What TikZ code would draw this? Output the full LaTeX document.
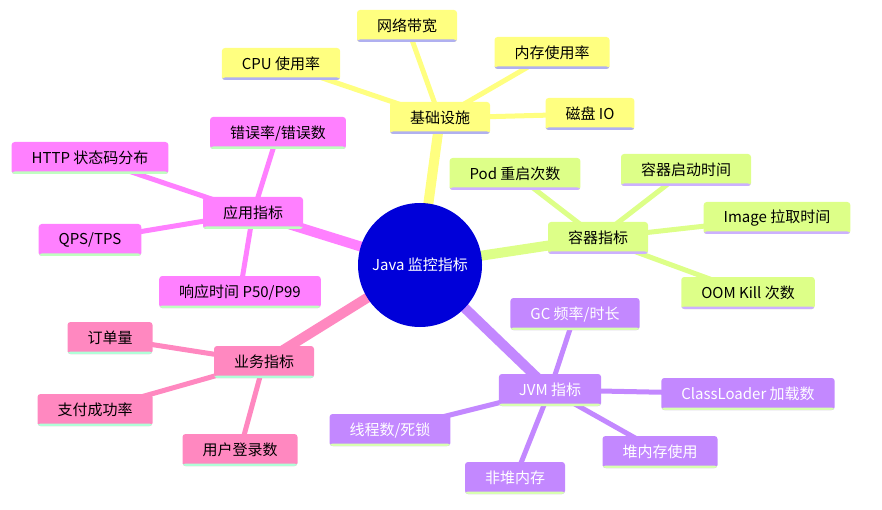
\documentclass[tikz,border=0pt]{standalone}
\usepackage{fontspec}
\setmainfont{Noto Sans CJK SC}
\usetikzlibrary{backgrounds}
\begin{document}
\begin{tikzpicture}[x=1pt,y=-1pt,
  box/.style={rectangle,rounded corners=3pt,minimum height=32pt,inner xsep=20pt,font=\fontsize{15}{17}\selectfont,
    path picture={\fill[#1] ([yshift=2.5pt]path picture bounding box.south west) rectangle (path picture bounding box.south east);}},
  yb/.style={box=yline,fill=yel},
  gb/.style={box=gline,fill=grn},
  pb/.style={box=pline,fill=pur,text=white},
  ab/.style={box=aline,fill=app},
  bb/.style={box=bline,fill=bus},
  main/.style={line width=10pt},
  sub/.style={line width=5pt},
]
\definecolor{yel}{HTML}{FFFF80}\definecolor{yline}{HTML}{B0B0F0}
\definecolor{grn}{HTML}{DDFF88}\definecolor{gline}{HTML}{CCB0FF}
\definecolor{pur}{HTML}{C388FF}\definecolor{pline}{HTML}{D8FFB0}
\definecolor{app}{HTML}{FF80FF}\definecolor{aline}{HTML}{C0FFC0}
\definecolor{bus}{HTML}{FF88C0}\definecolor{bline}{HTML}{B0FFD8}
\useasboundingbox (0,0) rectangle (882,510);
\node[circle,fill=blue!85!black,minimum size=124pt,text=white,font=\fontsize{15}{17}\selectfont] (c) at (420,265) {Java 监控指标};
\node[yb] (y) at (440,118) {基础设施};
\node[yb] (y1) at (281,64) {CPU 使用率};
\node[yb] (y2) at (407,26) {网络带宽};
\node[yb] (y3) at (552,53) {内存使用率};
\node[yb] (y4) at (590,114) {磁盘 IO};
\node[gb] (g) at (598,238) {容器指标};
\node[gb] (g1) at (515,174) {Pod 重启次数};
\node[gb] (g2) at (686,170) {容器启动时间};
\node[gb] (g3) at (777,218) {Image 拉取时间};
\node[gb] (g4) at (748,293) {OOM Kill 次数};
\node[pb] (p) at (550,390) {JVM 指标};
\node[pb] (p1) at (575,314) {GC 频率/时长};
\node[pb] (p2) at (748,394) {ClassLoader 加载数};
\node[pb] (p3) at (660,452) {堆内存使用};
\node[pb] (p4) at (515,478) {非堆内存};
\node[pb] (p5) at (390,430) {线程数/死锁};
\node[bb] (b) at (264,362) {业务指标};
\node[bb] (b1) at (110,338) {订单量};
\node[bb] (b2) at (95,410) {支付成功率};
\node[bb] (b3) at (240,450) {用户登录数};
\node[ab] (a) at (253,213) {应用指标};
\node[ab] (a1) at (278,133) {错误率/错误数};
\node[ab] (a2) at (90,158) {HTTP 状态码分布};
\node[ab] (a3) at (90,240) {QPS/TPS};
\node[ab] (a4) at (240,292) {响应时间 P50/P99};
\begin{scope}[on background layer]
\draw[main,yel] (c.center) -- (y.center);
\draw[main,grn] (c.center) -- (g.center);
\draw[main,pur] (c.center) -- (p.center);
\draw[main,bus] (c.center) -- (b.center);
\draw[main,app] (c.center) -- (a.center);
\foreach \i in {1,...,4} \draw[sub,yel] (y.center) -- (y\i.center);
\foreach \i in {1,...,4} \draw[sub,grn] (g.center) -- (g\i.center);
\foreach \i in {1,...,5} \draw[sub,pur] (p.center) -- (p\i.center);
\foreach \i in {1,...,3} \draw[sub,bus] (b.center) -- (b\i.center);
\foreach \i in {1,...,4} \draw[sub,app] (a.center) -- (a\i.center);
\end{scope}
\end{tikzpicture}
\end{document}
